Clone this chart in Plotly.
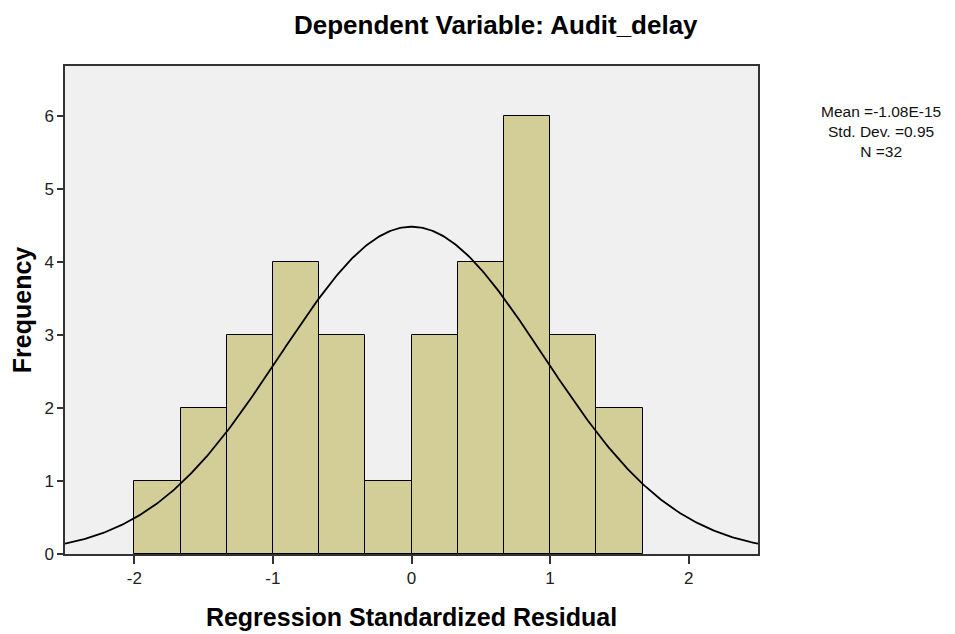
import numpy as np
import plotly.graph_objects as go

# Histogram data
bin_edges = [-2.0, -5/3, -4/3, -1.0, -2/3, -1/3, 0.0, 1/3, 2/3, 1.0, 4/3, 5/3]
counts = [1, 2, 3, 4, 3, 1, 3, 4, 6, 3, 2]
mean_val = -1.08e-15
std_val = 0.95
n_obs = 32
x_ticks = [-2, -1, 0, 1, 2]
y_ticks = [0, 1, 2, 3, 4, 5, 6]
stats_lines = ["Mean =-1.08E-15", "Std. Dev. =0.95", "N =32"]

centers = [(bin_edges[i] + bin_edges[i + 1]) / 2 for i in range(len(counts))]
widths = [bin_edges[i + 1] - bin_edges[i] for i in range(len(counts))]
bw = widths[0]

xs = np.linspace(-2.5, 2.5, 400)
ys = n_obs * bw / (std_val * np.sqrt(2 * np.pi)) * np.exp(-0.5 * ((xs - mean_val) / std_val) ** 2)

# page offset of 8px (body margin)
OFF = 8
PL, PR, PT, PB = 65, 758, 66, 554
W, H = 955, 634
pw, ph = PR - PL, PB - PT

def px(x):
    return (x - PL) / pw

def py(y):
    return (PB - y) / ph

fig = go.Figure()
fig.add_trace(go.Bar(x=centers, y=counts, width=widths,
                     marker=dict(color="#D3CE97", line=dict(color="#000000", width=1)),
                     showlegend=False, hoverinfo="skip"))
fig.add_trace(go.Scatter(x=xs, y=ys, mode="lines", line=dict(color="#000000", width=1.8),
                         showlegend=False, hoverinfo="skip"))

annotations = [
    dict(text="<b>Dependent Variable: Audit_delay</b>", xref="paper", yref="paper",
         x=px(496), y=py(25), xanchor="center", yanchor="middle",
         showarrow=False, font=dict(size=26)),
    dict(text="<br>".join(stats_lines), xref="paper", yref="paper",
         x=px(881), y=py(101), xanchor="center", yanchor="top", align="center",
         showarrow=False, font=dict(size=15.5, color="#111111")),
]

fig.update_layout(
    width=W, height=H,
    margin=dict(l=PL - OFF, r=W + OFF - PR, t=PT - OFF, b=H + OFF - PB),
    paper_bgcolor="#FFFFFF", plot_bgcolor="#F0F0F0",
    font=dict(family="Liberation Sans, Arial, sans-serif", color="#000000", size=17),
    bargap=0,
    xaxis=dict(range=[-2.5, 2.5], tickvals=x_ticks, ticktext=[str(t) for t in x_ticks],
               showgrid=False, zeroline=False, showline=True, linecolor="#333333", linewidth=1.5,
               mirror=True, ticks="outside", ticklen=8, tickcolor="#333333", tickwidth=1.5,
               tickfont=dict(size=17, color="#222222"),
               title=dict(text="<b>Regression Standardized Residual</b>", font=dict(size=25), standoff=21)),
    yaxis=dict(range=[0, 6.68], tickvals=y_ticks, ticktext=[str(t) for t in y_ticks],
               showgrid=False, zeroline=False, showline=True, linecolor="#333333", linewidth=1.5,
               mirror=True, ticks="outside", ticklen=6, tickcolor="#333333", tickwidth=1.5,
               tickfont=dict(size=17, color="#222222"),
               title=dict(text="<b>Frequency</b>", font=dict(size=25), standoff=7)),
    annotations=annotations,
)

fig.write_html("out.html")
